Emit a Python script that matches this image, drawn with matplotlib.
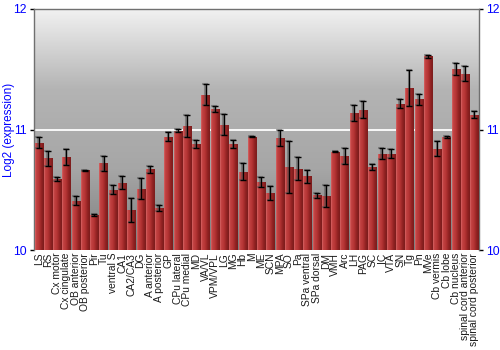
import numpy as np
import matplotlib
matplotlib.use("Agg")
import matplotlib.pyplot as plt
from matplotlib.colors import LinearSegmentedColormap

regions = ["LS", "RS", "Cx motor", "Cx cingulate", "OB anterior", "OB posterior", "Pir", "Tu",
           "ventral S", "CA1", "CA2/CA3", "DG", "A anterior", "A posterior", "GP", "CPu lateral",
           "CPu medial", "MD", "VA/VL", "VPM/VPL", "LG", "MG", "Hb", "M", "ME", "SCN", "MPA",
           "SO", "Pa", "SPa ventral", "SPa dorsal", "DM", "VMH", "Arc", "LH", "PAG", "SC", "IC",
           "VTA", "SN", "Tg", "Pn", "MVe", "Cb vermis", "Cb lobe", "Cb nucleus",
           "spinal cord anterior", "spinal cord posterior"]
values = [10.89, 10.76, 10.59, 10.77, 10.41, 10.66, 10.29, 10.72,
          10.50, 10.56, 10.33, 10.51, 10.67, 10.35, 10.94, 10.99,
          11.03, 10.88, 11.29, 11.17, 11.04, 10.88, 10.65, 10.94, 10.565, 10.47, 10.93,
          10.69, 10.675, 10.61, 10.455, 10.446, 10.815, 10.78, 11.14, 11.165, 10.69, 10.80,
          10.80, 11.215, 11.344, 11.25, 11.606, 10.84, 10.937, 11.504,
          11.463, 11.121]
errors = [0.044, 0.065, 0.014, 0.065, 0.039, 0.005, 0.005, 0.063,
          0.039, 0.055, 0.098, 0.09, 0.028, 0.023, 0.037, 0.012,
          0.09, 0.034, 0.09, 0.023, 0.087, 0.037, 0.069, 0.005, 0.044, 0.058, 0.065,
          0.216, 0.096, 0.05, 0.02, 0.09, 0.005, 0.069, 0.066, 0.07, 0.023, 0.044,
          0.036, 0.037, 0.15, 0.044, 0.01, 0.062, 0.005, 0.051,
          0.06, 0.029]
yticks = [10, 11, 12]

fig = plt.figure(figsize=(5, 3.5), dpi=100)
ax = fig.add_axes([0.068, 0.2857, 0.89, 0.6886])
ymin, ymax = 10, 12
n = len(regions)
x = np.arange(n)
ax.set_xlim(-0.5, n - 0.5)
ax.set_ylim(ymin, ymax)

# background gradient
bg = LinearSegmentedColormap.from_list("bg", ["#7e7e7e", "#a6a6a6", "#b4b4b4", "#f2f2f2"])
grad = np.linspace(0, 1, 256).reshape(-1, 1)
ax.imshow(grad, cmap=bg, aspect="auto", origin="lower",
          extent=(-0.5, n - 0.5, ymin, ymax), zorder=0, interpolation="bicubic")

# grid line at 11
ax.axhline(11, color="white", lw=1.3, zorder=1)

# bars with horizontal gradient
barcmap = LinearSegmentedColormap.from_list(
    "bar", [(0, "#d86a6a"), (0.12, "#c44444"), (0.45, "#b53434"), (0.75, "#902222"), (1.0, "#7a1c1c")])
w = 0.88
bars = ax.bar(x, np.array(values) - ymin, bottom=ymin, width=w, color="#b33434",
              edgecolor="none", zorder=2)
hgrad = np.linspace(0, 1, 64).reshape(1, -1)
for b in bars:
    x0 = b.get_x()
    im = ax.imshow(hgrad, cmap=barcmap, aspect="auto",
                   extent=(x0, x0 + b.get_width(), b.get_y(), b.get_y() + b.get_height()),
                   zorder=3, interpolation="bilinear")
    im.set_clip_path(b)

# error bars (shadow + main)
ax.errorbar(x - 0.08, values, yerr=errors, fmt="none", ecolor="#555555", alpha=0.5,
            elinewidth=1.5, capsize=2.5, capthick=1.5, zorder=4)
ax.errorbar(x, values, yerr=errors, fmt="none", ecolor="black",
            elinewidth=1, capsize=2.5, capthick=1, zorder=5)

ax.set_xticks(x)
ax.set_xticklabels(regions, rotation=90, fontsize=7.4, family="Liberation Sans", color="#1a1a1a")
ax.tick_params(axis="x", length=0, pad=2)

ax.set_yticks(yticks)
ax.set_yticklabels([str(t) for t in yticks])
ax.tick_params(axis="y", which="both", left=True, right=True, labelleft=True, labelright=True,
               length=3, width=1, colors="black", labelcolor="blue", labelsize=8.8, pad=2)
for lab in ax.get_yticklabels():
    lab.set_family("Liberation Sans")

fig.text(9.5 / 500, 1 - 130 / 350, "Log2 (expression)", color="blue", fontsize=8.5,
         family="Liberation Sans", rotation=90, ha="center", va="center")

for side in ["left", "right", "top"]:
    ax.spines[side].set_color("#707070")
    ax.spines[side].set_linewidth(1)
ax.spines["bottom"].set_visible(False)

fig.savefig("out.png", dpi=100)
